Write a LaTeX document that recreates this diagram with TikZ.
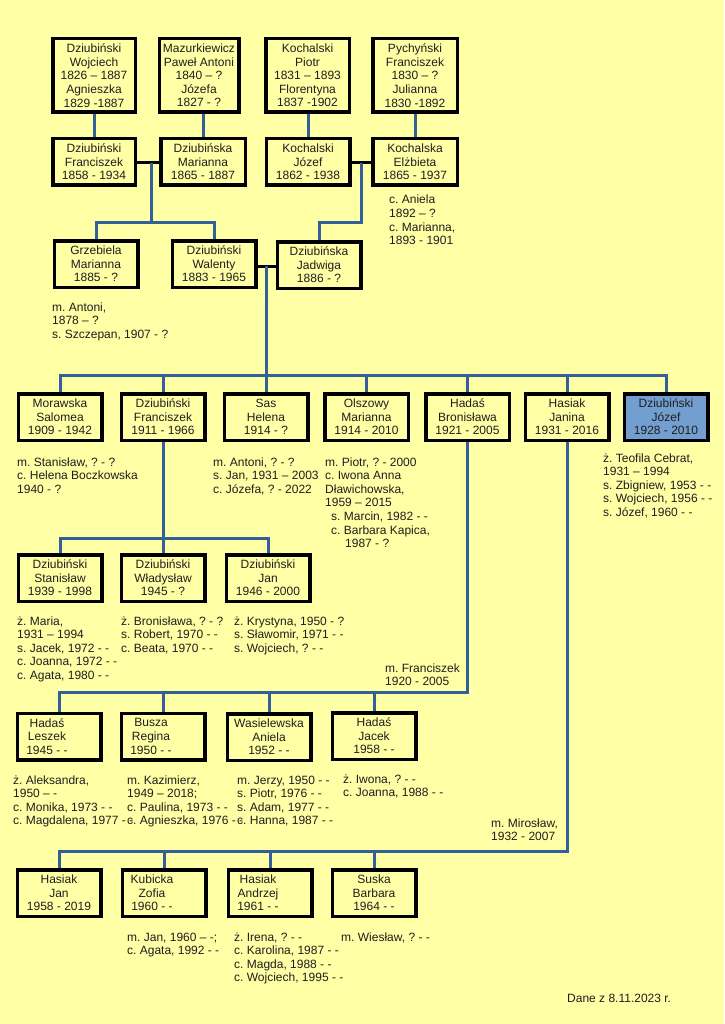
\documentclass[tikz,border=0pt]{standalone}
\usepackage{fontspec}
\setmainfont{Liberation Sans}
\usetikzlibrary{backgrounds}
\definecolor{bg}{HTML}{FFFFA6}
\definecolor{conncol}{HTML}{34609A}
\definecolor{jblue}{HTML}{729FCF}
\definecolor{txt}{HTML}{1E1E1E}
\frenchspacing
\newcommand\myfont{\fontsize{12}{13.6}\selectfont}
\newcommand\annot[4]{\node[ann] (#1) at (#2,#3) {\begin{tabular}[t]{@{}l@{}}#4\end{tabular}};}
\tikzset{
  person/.style={draw=black, line width=3.5pt, fill=bg, minimum width=83.5pt,
    minimum height=46.5pt, inner sep=0pt, align=center, font=\myfont, text=txt},
  tall/.style={minimum height=73.5pt},
  ptext/.style={align=center, inner sep=0pt, font=\myfont, text=txt},
  ann/.style={anchor=base west, inner sep=0pt, font=\myfont, text=txt},
  conn/.style={draw=conncol, line width=3pt, line join=miter},
  marr/.style={draw=black, line width=3pt},
}
\begin{document}
\begin{tikzpicture}[x=1pt,y=-1pt]
\useasboundingbox (0,0) rectangle (724,1024);
% generation 1
\node[person,tall,minimum width=82.5pt] (A1) at (94,75.5) {Dziubiński\\Wojciech\\1826 – 1887\\Agnieszka\\1829 -1887};
\node[person,tall,minimum width=79.5pt] (A2) at (199,75.5) {Mazurkiewicz\\Paweł Antoni\\1840 – ?\\Józefa\\1827 - ?};
\node[person,tall] (A3) at (307.5,75.5) {Kochalski\\Piotr\\1831 – 1893\\Florentyna\\1837 -1902};
\node[person,tall,minimum width=84.5pt] (A4) at (415,75.5) {Pychyński\\Franciszek\\1830 – ?\\Julianna\\1830 -1892};
% generation 2
\node[person,minimum width=82.5pt] (B1) at (94,162) {Dziubiński\\Franciszek\\1858 - 1934};
\node[person,minimum width=84.5pt] (B2) at (203,162) {Dziubińska\\Marianna\\1865 - 1887};
\node[person] (B3) at (308,162) {Kochalski\\Józef\\1862 - 1938};
\node[person,minimum width=84.5pt] (B4) at (415,162) {Kochalska\\Elżbieta\\1865 - 1937};
% generation 3
\node[person] (C1) at (96,264) {Grzebiela\\Marianna\\1885 - ?};
\node[person] (C2) at (214,264) {Dziubiński\\Walenty\\1883 - 1965};
\node[person] (C3) at (319,265) {Dziubińska\\Jadwiga\\1886 - ?};
% generation 4
\node[person] (D1) at (60,417) {Morawska\\Salomea\\1909 - 1942};
\node[person] (D2) at (163,417) {Dziubiński\\Franciszek\\1911 - 1966};
\node[person] (D3) at (266,417) {Sas\\Helena\\1914 - ?};
\node[person] (D4) at (366.5,417) {Olszowy\\Marianna\\1914 - 2010};
\node[person] (D5) at (467.5,417) {Hadaś\\Bronisława\\1921 - 2005};
\node[person] (D6) at (567,417) {Hasiak\\Janina\\1931 - 2016};
\node[person,fill=jblue] (D7) at (666,417) {Dziubiński\\Józef\\1928 - 2010};
% generation 5
\node[person] (E1) at (60,578) {Dziubiński\\Stanisław\\1939 - 1998};
\node[person] (E2) at (163,578) {Dziubiński\\Władysław\\1945 - ?};
\node[person] (E3) at (268,578) {Dziubiński\\Jan\\1946 - 2000};
% generation 6
\node[person] (F1) at (59,736.5) {};
\node[ptext] (F1t) at ([xshift=-12pt]F1.center) {Hadaś\\Leszek\\1945 - -};
\node[person] (F2) at (163,736.5) {};
\node[ptext] (F2t) at ([xshift=-12pt]F2.center) {Busza\\Regina\\1950 - -};
\node[person] (F3) at (269,737) {Wasielewska\\Aniela\\1952 - -};
\node[person] (F4) at (374,736) {Hadaś\\Jacek\\1958 - -};
% generation 7
\node[person] (G1) at (59,893) {Hasiak\\Jan\\1958 - 2019};
\node[person] (G2) at (164,893) {};
\node[ptext] (G2t) at ([xshift=-12pt]G2.center) {Kubicka\\Zofia\\1960 - -};
\node[person] (G3) at (270,893) {};
\node[ptext] (G3t) at ([xshift=-12pt]G3.center) {Hasiak\\Andrzej\\1961 - -};
\node[person] (G4) at (374,893) {Suska\\Barbara\\1964 - -};
% junctions and bus levels
\coordinate (m1) at (151,163);
\coordinate (m2) at (361,163);
\coordinate (m3) at (266,266);
\coordinate (bus1) at (0,223);
\coordinate (bus2) at (0,375);
\coordinate (bus3) at (0,538);
\coordinate (bus4) at (0,692);
\coordinate (bus5) at (0,851);
% annotations
\annot{nC1}{52}{311}{m. Antoni,\\1878 – ?\\s. Szczepan, 1907 - ?}
\annot{nB4}{389}{204}{c. Aniela\\1892 – ?\\c. Marianna,\\1893 - 1901}
\annot{nD1}{17}{466}{m. Stanisław, ? - ?\\c. Helena Boczkowska\\1940 - ?}
\annot{nD3}{213}{466}{m. Antoni, ? - ?\\s. Jan, 1931 – 2003\\c. Józefa, ? - 2022}
\annot{nD4}{325}{466}{m. Piotr, ? - 2000\\c. Iwona Anna\\Dławichowska,\\1959 – 2015\\\hspace*{6pt}s. Marcin, 1982 - -\\\hspace*{6pt}c. Barbara Kapica,\\\hspace*{20pt}1987 - ?}
\annot{nD7}{603}{462}{ż. Teofila Cebrat,\\1931 – 1994\\s. Zbigniew, 1953 - -\\s. Wojciech, 1956 - -\\s. Józef, 1960 - -}
\annot{nE1}{17}{625}{ż. Maria,\\1931 – 1994\\s. Jacek, 1972 - -\\c. Joanna, 1972 - -\\c. Agata, 1980 - -}
\annot{nE2}{121}{625}{ż. Bronisława, ? - ?\\s. Robert, 1970 - -\\c. Beata, 1970 - -}
\annot{nE3}{234}{625}{ż. Krystyna, 1950 - ?\\s. Sławomir, 1971 - -\\s. Wojciech, ? - -}
\annot{nD5}{385}{672}{m. Franciszek\\1920 - 2005}
\annot{nF1}{13}{784}{ż. Aleksandra,\\1950 – -\\c. Monika, 1973 - -\\c. Magdalena, 1977 - -}
\annot{nF2}{127}{784}{m. Kazimierz,\\1949 – 2018;\\c. Paulina, 1973 - -\\c. Agnieszka, 1976 - -}
\annot{nF3}{237}{784}{m. Jerzy, 1950 - -\\s. Piotr, 1976 - -\\s. Adam, 1977 - -\\c. Hanna, 1987 - -}
\annot{nF4}{343}{783}{ż. Iwona, ? - -\\c. Joanna, 1988 - -}
\annot{nD6}{491}{827}{m. Mirosław,\\1932 - 2007}
\annot{nG2}{127}{941}{m. Jan, 1960 – -;\\c. Agata, 1992 - -}
\annot{nG3}{234}{941}{ż. Irena, ? - -\\c. Karolina, 1987 - -\\c. Magda, 1988 - -\\c. Wojciech, 1995 - -}
\annot{nG4}{341}{941}{m. Wiesław, ? - -}
\annot{dane}{567}{1002}{Dane z 8.11.2023 r.}
% connectors
\begin{scope}[on background layer]
\fill[bg] (0,0) rectangle (724,1024);
\draw[conn] (B1) -- (B1 |- A1);
\draw[conn] (B2) -- (B2 |- A2);
\draw[conn] (B3) -- (B3 |- A3);
\draw[conn] (B4) -- (B4 |- A4);
\draw[marr] (B1 |- m1) -- (B2 |- m1);
\draw[marr] (B3 |- m2) -- (B4 |- m2);
\draw[conn] (m1) -- (m1 |- bus1);
\draw[conn] (C1) -- (C1 |- bus1) -- (C2 |- bus1) -- (C2);
\draw[conn] (m2) -- (m2 |- bus1) -- (C3 |- bus1) -- (C3);
\draw[marr] (C2 |- m3) -- (C3 |- m3);
\draw[conn] (m3) -- (m3 |- bus2);
\draw[conn] (D1) -- (D1 |- bus2) -- (D7 |- bus2) -- (D7);
\foreach \n in {D2,D3,D4,D5,D6} \draw[conn] (\n) -- (\n |- bus2);
\draw[conn] (D2) -- (D2 |- bus3);
\draw[conn] (E1) -- (E1 |- bus3) -- (E3 |- bus3) -- (E3);
\draw[conn] (E2) -- (E2 |- bus3);
\draw[conn] (D5) -- (D5 |- bus4) -- (F1 |- bus4) -- (F1);
\foreach \n in {F2,F3,F4} \draw[conn] (\n) -- (\n |- bus4);
\draw[conn] (D6) -- (D6 |- bus5) -- (G1 |- bus5) -- (G1);
\foreach \n in {G2,G3,G4} \draw[conn] (\n) -- (\n |- bus5);
\end{scope}
\end{tikzpicture}
\end{document}
